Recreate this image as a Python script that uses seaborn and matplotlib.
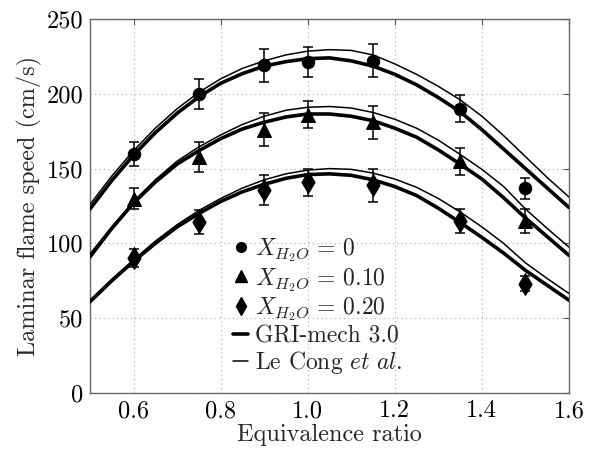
import numpy as np
import pandas as pd
import matplotlib
matplotlib.use("Agg")
import matplotlib.pyplot as plt
from matplotlib.lines import Line2D
import seaborn as sns

# ---- data ----
phi_exp = [0.60, 0.75, 0.90, 1.00, 1.15, 1.35, 1.50]
s_x0 = [160, 200, 219, 221, 222, 190, 137]
e_x0 = [8, 10, 11, 10, 11, 9, 7]
s_x10 = [130, 158, 176, 186, 181, 155, 115]
e_x10 = [7, 10, 11, 9, 11, 9, 8]
s_x20 = [90, 114, 136, 141, 139, 115, 73]
e_x20 = [6, 8, 10, 9, 11, 8, 5]

phi_sim = [0.50, 0.55, 0.60, 0.65, 0.70, 0.75, 0.80, 0.85, 0.90, 0.95, 1.00, 1.05,
           1.10, 1.15, 1.20, 1.25, 1.30, 1.35, 1.40, 1.45, 1.50, 1.55, 1.60]
gri_x0 = [123, 142, 159, 174, 187, 198, 207, 213.5, 218.5, 221.5, 223.5, 224,
          222, 218.5, 213, 206, 197.5, 188, 176, 163, 150, 137, 124]
lec_x0 = [126, 145, 162, 177, 190, 201, 210, 217, 222, 226, 228.5, 229.5,
          229, 226, 220, 213, 205, 196, 185, 172, 158, 144, 131]
gri_x10 = [91, 110, 127, 141, 153, 162, 170, 176.5, 181, 184.5, 186.5, 186.5,
           185, 182, 177, 171, 162.5, 153, 143, 130.5, 117, 104.5, 92]
lec_x10 = [93, 111, 128, 142.5, 155, 164.5, 172.5, 179.5, 185, 189, 191, 191.5,
           190.5, 187.5, 183, 177, 169, 159.5, 149.5, 138, 123, 110, 97.5]
gri_x20 = [61, 75, 88, 100, 111, 120, 128, 134.5, 139.5, 143.5, 146, 146.5,
           145.5, 142.5, 138, 132, 123.5, 114, 104, 93.5, 82, 72, 62]
lec_x20 = [62, 76, 89, 101.5, 112.5, 122, 130, 137, 142.5, 146.5, 149, 150,
           149.5, 147, 143, 137.5, 130, 121, 111, 100, 87, 76.5, 66.5]

x_ticks = [0.6, 0.8, 1.0, 1.2, 1.4, 1.6]
y_ticks = [0, 50, 100, 150, 200, 250]
legend_labels = [r"$X_{H_2O}\,=\,0$", r"$X_{H_2O}\,=\,0.10$", r"$X_{H_2O}\,=\,0.20$",
                 "GRI-mech 3.0", r"Le Cong $\mathit{et\ al.}$"]

# ---- style ----
sns.set_style("white")
plt.rcParams["font.family"] = ["cmr10", "DejaVu Serif"]
plt.rcParams["mathtext.fontset"] = "cm"
plt.rcParams["axes.formatter.use_mathtext"] = True

fig = plt.figure(figsize=(5.98, 4.51), dpi=100)
ax = fig.add_axes([90 / 598, 58 / 451, 479 / 598, 374 / 451])

sim = pd.DataFrame({"phi": phi_sim * 6,
                    "S": gri_x0 + lec_x0 + gri_x10 + lec_x10 + gri_x20 + lec_x20,
                    "curve": sum([[k] * len(phi_sim) for k in
                                  ["g0", "l0", "g10", "l10", "g20", "l20"]], [])})
for key, lw in [("g0", 2.6), ("g10", 2.6), ("g20", 2.6), ("l0", 1.1), ("l10", 1.1), ("l20", 1.1)]:
    sns.lineplot(data=sim[sim.curve == key], x="phi", y="S", color="black",
                 lw=lw, ax=ax, legend=False, zorder=3)

exp = pd.DataFrame({"phi": phi_exp * 3, "S": s_x0 + s_x10 + s_x20,
                    "err": e_x0 + e_x10 + e_x20,
                    "set": ["0"] * 7 + ["10"] * 7 + ["20"] * 7})
markers = {"0": ("o", 9), "10": ("^", 10), "20": ("d", 11)}
for k, (m, ms) in markers.items():
    d = exp[exp.set == k]
    ax.errorbar(d.phi, d.S, yerr=d.err, fmt="none", ecolor="black", elinewidth=1.1,
                capsize=3.4, capthick=1.1, zorder=4)
    sns.scatterplot(data=d, x="phi", y="S", marker=m, s=ms ** 2, color="black",
                    edgecolor="black", ax=ax, zorder=5, legend=False)

ax.set_xlim(0.5, 1.6)
ax.set_ylim(0, 250)
ax.set_xticks(x_ticks)
ax.set_yticks(y_ticks)
ax.set_xticklabels([f"{v:.1f}" for v in x_ticks])
ax.set_yticklabels([str(v) for v in y_ticks])
ax.tick_params(direction="in", length=4, width=0.8, top=True, right=True,
               labelsize=17.5, colors="#555555", labelcolor="black", pad=5)
ax.grid(True, linestyle=(0, (1, 3)), color="#aaaaaa", lw=0.8)
for s in ax.spines.values():
    s.set_color("#666666")
    s.set_linewidth(1.0)
ax.set_xlabel("Equivalence ratio", fontsize=17.5, labelpad=1)
ax.set_ylabel("Laminar flame speed (cm/s)", fontsize=17.5, labelpad=3)

handles = [
    Line2D([], [], ls="none", marker="o", ms=7, color="black"),
    Line2D([], [], ls="none", marker="^", ms=8, color="black"),
    Line2D([], [], ls="none", marker="d", ms=9, color="black"),
    Line2D([], [], color="black", lw=2.6),
    Line2D([], [], color="black", lw=1.1),
]
leg = ax.legend(handles, legend_labels, loc="upper left",
                bbox_to_anchor=((233 - 90) / 479, (393 - 236) / 374),
                frameon=False, fontsize=17, handlelength=0.65, handletextpad=0.3,
                labelspacing=0.08, borderaxespad=0, borderpad=0)

fig.savefig("out.png", dpi=100)
